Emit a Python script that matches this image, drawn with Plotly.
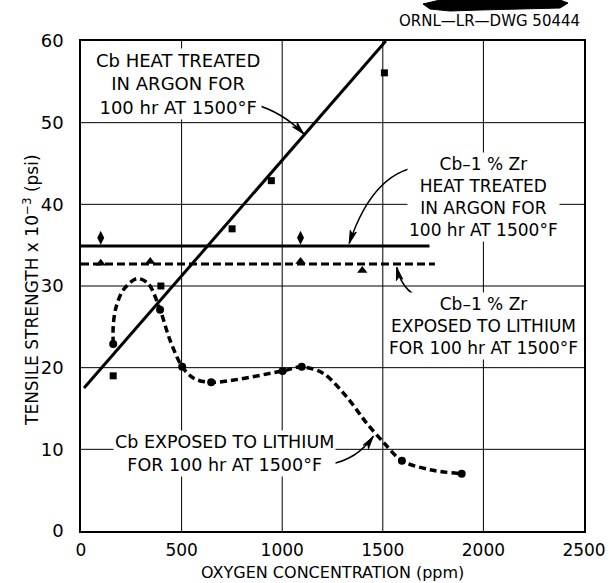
import math
import plotly.graph_objects as go

# ---- data ----
# Cb heat treated in argon (squares) + fitted straight line
cb_ar_x = [160, 397, 751, 946, 1508]
cb_ar_y = [19.0, 30.0, 37.0, 42.9, 56.1]
cb_ar_line_x = [15, 1515]
cb_ar_line_y = [17.5, 60.0]

# Cb-1% Zr heat treated in argon (diamonds) + level line
zr_ar_x = [98, 1091]
zr_ar_y = [35.9, 35.9]
zr_ar_line_x = [0, 1732]
zr_ar_line_y = [34.9, 34.9]

# Cb-1% Zr exposed to lithium (triangles) + level line
zr_li_x = [98, 344, 1091, 1398]
zr_li_y = [32.8, 33.0, 33.0, 31.9]
zr_li_line_x = [0, 1759]
zr_li_line_y = [32.7, 32.7]

# Cb exposed to lithium (circles) + hand-drawn curve
cb_li_x = [160, 393, 503, 647, 1002, 1097, 1595, 1892]
cb_li_y = [22.9, 27.1, 20.1, 18.2, 19.6, 20.1, 8.6, 7.0]
cb_li_curve_x = [160, 160, 172, 210, 277, 334, 393, 442, 503, 560, 647,
                 1002, 1097, 1204, 1321, 1420, 1502, 1595, 1735, 1892]
cb_li_curve_y = [22.9, 25.0, 27.2, 29.5, 30.9, 30.3, 27.1, 23.4, 20.1, 18.7, 18.2,
                 19.6, 20.1, 19.3, 16.4, 13.2, 10.9, 8.6, 7.5, 7.0]

x_ticks = [0, 500, 1000, 1500, 2000, 2500]
y_ticks = [0, 10, 20, 30, 40, 50, 60]
X_RANGE = [0, 2500]
Y_RANGE = [0, 60]
X_TITLE = "OXYGEN CONCENTRATION (ppm)"
Y_TITLE = "TENSILE STRENGTH x 10<sup>−3</sup> (psi)"

FONT = "DejaVu Sans"
W, H = 612, 583
ML, MR, MT, MB = 81, 28, 41, 52
PW, PH = W - ML - MR, H - MT - MB


def d2p(x, y):
    return (ML + (x - X_RANGE[0]) / (X_RANGE[1] - X_RANGE[0]) * PW,
            MT + (Y_RANGE[1] - y) / (Y_RANGE[1] - Y_RANGE[0]) * PH)


def p2d(px, py):
    return (X_RANGE[0] + (px - ML) / PW * (X_RANGE[1] - X_RANGE[0]),
            Y_RANGE[1] - (py - MT) / PH * (Y_RANGE[1] - Y_RANGE[0]))


def px2paper(px, py):
    return (px - ML) / PW, (H - MB - py) / PH


fig = go.Figure()

# grid lines at the tick positions
for xv in x_ticks[1:-1]:
    fig.add_shape(type="line", xref="x", yref="paper", x0=xv, x1=xv, y0=0, y1=1,
                  line=dict(color="black", width=1), layer="below")
for yv in y_ticks[1:-1]:
    fig.add_shape(type="line", xref="paper", yref="y", x0=0, x1=1, y0=yv, y1=yv,
                  line=dict(color="black", width=1), layer="below")

fig.add_trace(go.Scatter(x=cb_ar_line_x, y=cb_ar_line_y, mode="lines",
                         line=dict(color="black", width=3)))
fig.add_trace(go.Scatter(x=cb_ar_x, y=cb_ar_y, mode="markers",
                         marker=dict(symbol="square", size=7, color="black")))

fig.add_trace(go.Scatter(x=zr_ar_line_x, y=zr_ar_line_y, mode="lines",
                         line=dict(color="black", width=3)))
fig.add_trace(go.Scatter(x=zr_ar_x, y=zr_ar_y, mode="markers",
                         marker=dict(symbol="diamond-tall", size=10, color="black")))

fig.add_trace(go.Scatter(x=zr_li_line_x, y=zr_li_line_y, mode="lines",
                         line=dict(color="black", width=3, dash="8px,4px")))
fig.add_trace(go.Scatter(x=zr_li_x, y=zr_li_y, mode="markers",
                         marker=dict(symbol="triangle-up", size=9, color="black")))

fig.add_trace(go.Scatter(x=cb_li_curve_x, y=cb_li_curve_y, mode="lines",
                         line=dict(color="black", width=3.5, dash="7px,4px",
                                   shape="spline", smoothing=0.9)))
fig.add_trace(go.Scatter(x=cb_li_x, y=cb_li_y, mode="markers",
                         marker=dict(symbol="circle", size=8, color="black")))

# ---- labels ----
labels = [
    ("Cb HEAT TREATED<br>IN ARGON FOR<br>100 hr AT 1500°F", 480, 54.7, 18),
    ("Cb–1 % Zr<br>HEAT TREATED<br>IN ARGON FOR<br>100 hr AT 1500°F", 1998, 40.9, 17),
    ("Cb–1 % Zr<br>EXPOSED TO LITHIUM<br>FOR 100 hr AT 1500°F", 1998, 25.1, 17),
    ("Cb EXPOSED TO LITHIUM<br>FOR 100 hr AT 1500°F", 713, 9.5, 17.5),
]
for txt, lx, ly, fs in labels:
    fig.add_annotation(x=lx, y=ly, xref="x", yref="y", text=txt, showarrow=False,
                       font=dict(family=FONT, size=fs, color="black"),
                       bgcolor="white", borderpad=1, align="center")

# curved leaders: (start, control, end) with dart arrowheads
leaders = [
    ((839, 52.4), (994, 51.5), (1108, 48.6)),
    ((1722, 44.7), (1460, 44.6), (1333, 35.2)),
    ((1735, 28.3), (1602, 28.7), (1569, 32.3)),
    ((1237, 8.2), (1370, 8.7), (1453, 11.6)),
]
for (sx, sy), (cx, cy), (ex, ey) in leaders:
    fig.add_shape(type="path", xref="x", yref="y",
                  path=f"M {sx},{sy} Q {cx},{cy} {ex},{ey}",
                  line=dict(color="black", width=1.5))
    epx, epy = d2p(ex, ey)
    cpx, cpy = d2p(cx, cy)
    dx, dy = epx - cpx, epy - cpy
    n = math.hypot(dx, dy)
    ux, uy = dx / n, dy / n
    L, hw = 13, 3.2
    bx, by = epx - ux * L, epy - uy * L
    p1 = p2d(bx - uy * hw, by + ux * hw)
    p2 = p2d(bx + uy * hw, by - ux * hw)
    p3 = p2d(epx - ux * L * 0.75, epy - uy * L * 0.75)
    fig.add_shape(type="path", xref="x", yref="y",
                  path=f"M {ex},{ey} L {p1[0]},{p1[1]} L {p3[0]},{p3[1]} L {p2[0]},{p2[1]} Z",
                  fillcolor="black", line=dict(color="black", width=1))

# axis titles placed as text
xt = px2paper(334, 584)
fig.add_annotation(x=0.5, y=xt[1], xref="paper", yref="paper", text=X_TITLE,
                   showarrow=False, xanchor="center", yanchor="bottom",
                   font=dict(family=FONT, size=16, color="black"))
yt = px2paper(31, 290)
fig.add_annotation(x=yt[0], y=yt[1], xref="paper", yref="paper", text=Y_TITLE,
                   showarrow=False, xanchor="center", yanchor="middle", textangle=-90,
                   font=dict(family=FONT, size=17, color="black"))

# drawing number and the redaction blot at the top
tx, ty = px2paper(582, 21)
fig.add_annotation(x=tx, y=ty, xref="paper", yref="paper",
                   text="ORNL—LR—DWG 50444", showarrow=False, xanchor="right", yanchor="middle",
                   font=dict(family=FONT, size=15, color="black"))

blot = [(423, 4), (440, 0), (560, 0), (568, 3), (560, 8), (520, 9), (480, 10), (450, 11), (430, 9)]
pts = [px2paper(a, b) for a, b in blot]
path = "M " + " L ".join(f"{a},{b}" for a, b in pts) + " Z"
fig.add_shape(type="path", xref="paper", yref="paper", path=path,
              fillcolor="black", line=dict(color="black", width=1))

axis_common = dict(showgrid=False, zeroline=False, automargin=False,
                   showline=True, linecolor="black", linewidth=1.5, mirror=True,
                   ticks="")

fig.update_layout(
    width=W, height=H,
    margin=dict(l=ML, r=MR, t=MT, b=MB),
    paper_bgcolor="white", plot_bgcolor="white",
    showlegend=False,
    xaxis=dict(range=X_RANGE, tickvals=x_ticks, ticklabelstandoff=3,
               tickfont=dict(family=FONT, size=17, color="black"), **axis_common),
    yaxis=dict(range=Y_RANGE, tickvals=y_ticks, ticklabelstandoff=12,
               tickfont=dict(family=FONT, size=18, color="black"), **axis_common),
)

fig.write_html("out.html")
